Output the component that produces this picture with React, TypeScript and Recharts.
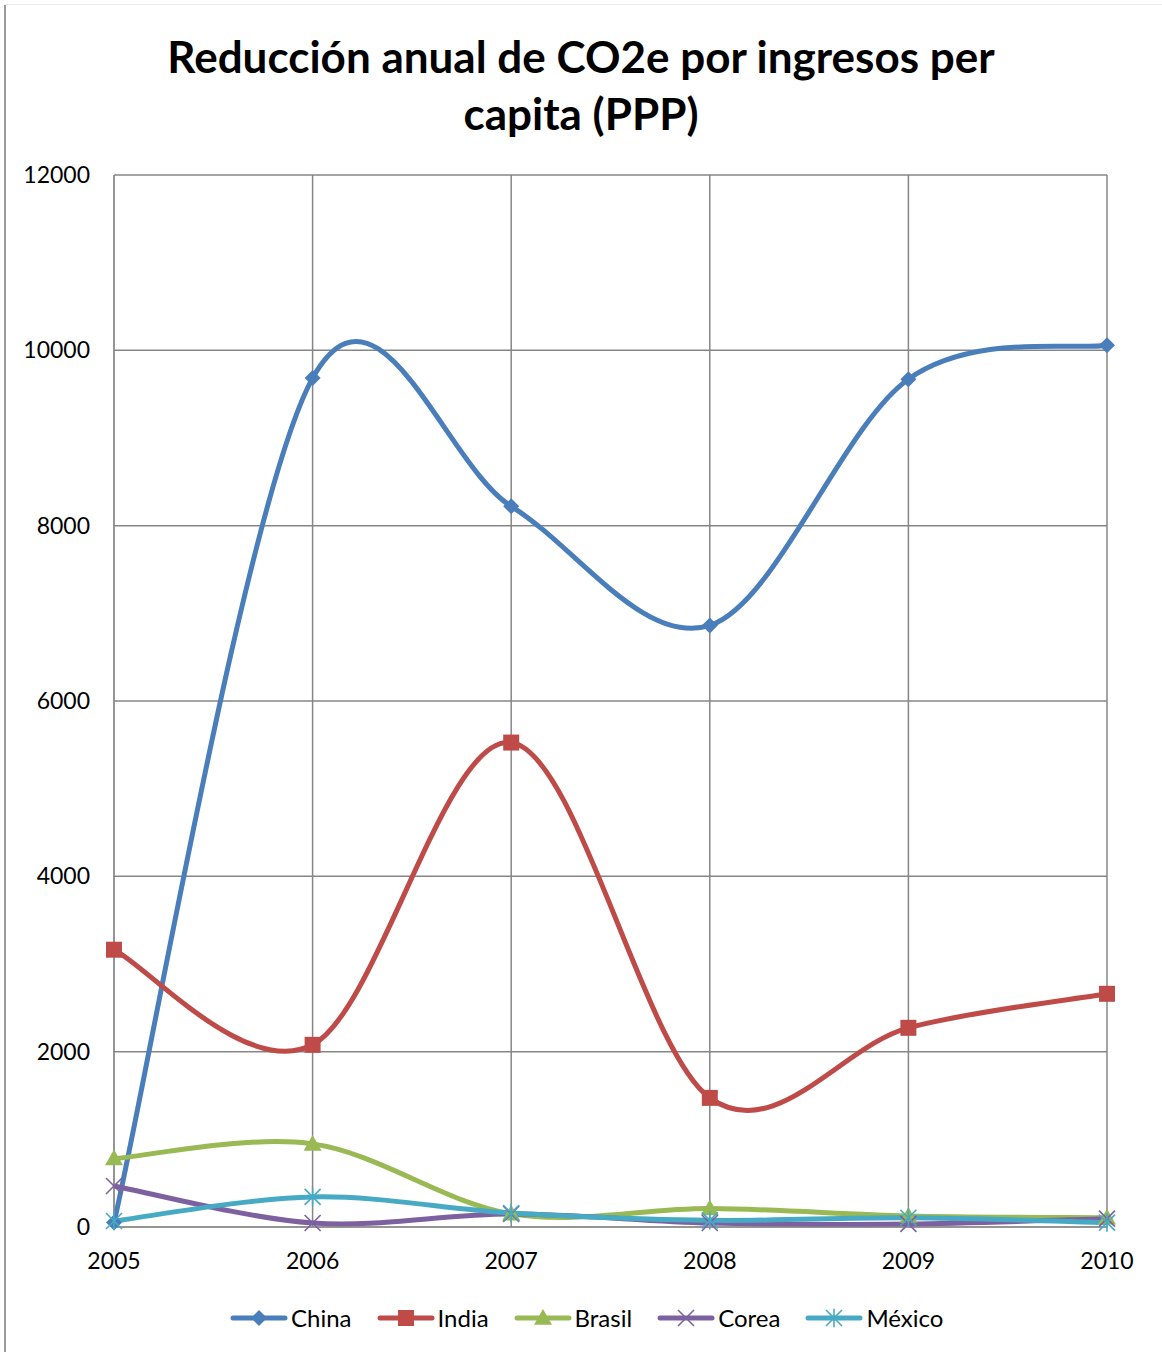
import { LineChart, Line, XAxis, YAxis, CartesianGrid, Legend } from 'recharts';

const years = ['2005', '2006', '2007', '2008', '2009', '2010'];
const china = [50, 9683, 8221, 6862, 9671, 10059];
const india = [3163, 2078, 5526, 1473, 2272, 2660];
const brasil = [780, 948, 150, 210, 126, 105];
const corea = [468, 46, 148, 45, 35, 95];
const mexico = [68, 343, 160, 76, 105, 50];
const yTicks = [0, 2000, 4000, 6000, 8000, 10000, 12000];

const data = years.map((year, i) => ({
  year,
  China: china[i],
  India: india[i],
  Brasil: brasil[i],
  Corea: corea[i],
  México: mexico[i],
}));

const series = [
  { name: 'China', color: '#4A7EBB', marker: 'diamond' },
  { name: 'India', color: '#BE4B48', marker: 'square' },
  { name: 'Brasil', color: '#98B954', marker: 'triangle' },
  { name: 'Corea', color: '#7D60A0', marker: 'x' },
  { name: 'México', color: '#46AAC5', marker: 'star' },
];

// Excel-style smoothed line (Catmull-Rom through the points)
function excelCurve(context: any) {
  let pts: [number, number][] = [];
  return {
    areaStart() {},
    areaEnd() {},
    lineStart() {
      pts = [];
    },
    lineEnd() {
      if (!pts.length) return;
      context.moveTo(pts[0][0], pts[0][1]);
      for (let i = 0; i < pts.length - 1; i++) {
        const p0 = pts[i - 1] || pts[i];
        const p1 = pts[i];
        const p2 = pts[i + 1];
        const p3 = pts[i + 2] || p2;
        context.bezierCurveTo(
          p1[0] + (p2[0] - p0[0]) / 6,
          p1[1] + (p2[1] - p0[1]) / 6,
          p2[0] - (p3[0] - p1[0]) / 6,
          p2[1] - (p3[1] - p1[1]) / 6,
          p2[0],
          p2[1]
        );
      }
    },
    point(x: number, y: number) {
      pts.push([x, y]);
    },
  };
}

function Marker({ shape, cx, cy, color }: { shape: string; cx: number; cy: number; color: string }) {
  if (shape === 'diamond') {
    const r = 8;
    return <polygon points={`${cx},${cy - r} ${cx + r},${cy} ${cx},${cy + r} ${cx - r},${cy}`} fill={color} />;
  }
  if (shape === 'square') {
    const r = 8;
    return <rect x={cx - r} y={cy - r} width={2 * r} height={2 * r} fill={color} />;
  }
  if (shape === 'triangle') {
    const r = 9;
    return <polygon points={`${cx},${cy - r} ${cx + r},${cy + r * 0.75} ${cx - r},${cy + r * 0.75}`} fill={color} />;
  }
  const r = 8;
  return (
    <g stroke={color} strokeWidth={1.6}>
      <line x1={cx - r} y1={cy - r} x2={cx + r} y2={cy + r} />
      <line x1={cx - r} y1={cy + r} x2={cx + r} y2={cy - r} />
      {shape === 'star' && <line x1={cx} y1={cy - r * 1.15} x2={cx} y2={cy + r * 1.15} />}
    </g>
  );
}

const renderLegend = () => (
  <div style={{ display: 'flex', paddingLeft: 230, fontFamily: 'Lato', fontSize: 24, color: '#000' }}>
    {series.map((s) => (
      <div key={s.name} style={{ display: 'flex', alignItems: 'center', marginRight: 25 }}>
        <svg width={58} height={22}>
          <line x1={3} x2={55} y1={11} y2={11} stroke={s.color} strokeWidth={5} strokeLinecap="round" />
          <Marker shape={s.marker} cx={29} cy={11} color={s.color} />
        </svg>
        <span style={{ marginLeft: 3 }}>{s.name}</span>
      </div>
    ))}
  </div>
);

export default function App() {
  return (
    <div style={{ position: 'absolute', left: 0, top: 0, width: 1162, height: 1352, background: '#fff' }}>
      <div style={{ position: 'absolute', left: 4, top: 4, width: 2, height: 1348, background: '#9a9a9a' }} />
      <div style={{ position: 'absolute', left: 4, top: 4, width: 1158, height: 1, background: '#ececec' }} />
      <div
        style={{
          position: 'absolute',
          left: 0,
          top: 28,
          width: 1162,
          textAlign: 'center',
          fontFamily: 'Lato',
          fontWeight: 'bold',
          fontSize: 44,
          lineHeight: '57px',
          color: '#000',
        }}
      >
        Reducción anual de CO2e por ingresos per
        <br />
        capita (PPP)
      </div>
      <LineChart width={1162} height={1352} data={data} margin={{ top: 175, right: 55, left: 0, bottom: 20 }}>
        <CartesianGrid stroke="#868686" strokeWidth={1.5} />
        <XAxis
          dataKey="year"
          scale="point"
          padding={{ left: 0, right: 0 }}
          stroke="#868686"
          tickLine={false}
          tickSize={0}
          tickMargin={26}
          height={76}
          tick={{ fill: '#000', fontFamily: 'Lato', fontSize: 23 }}
        />
        <YAxis
          domain={[0, 12000]}
          ticks={yTicks}
          width={114}
          stroke="#868686"
          tickLine={false}
          tickSize={0}
          tickMargin={24}
          tick={{ fill: '#000', fontFamily: 'Lato', fontSize: 23 }}
        />
        <Legend verticalAlign="bottom" content={renderLegend} />
        {series.map((s) => (
          <Line
            key={s.name}
            dataKey={s.name}
            type={excelCurve as any}
            stroke={s.color}
            strokeWidth={5}
            isAnimationActive={false}
            dot={(p: any) => <Marker key={`${s.name}-${p.index}`} shape={s.marker} cx={p.cx} cy={p.cy} color={s.color} />}
            activeDot={false}
          />
        ))}
      </LineChart>
    </div>
  );
}
